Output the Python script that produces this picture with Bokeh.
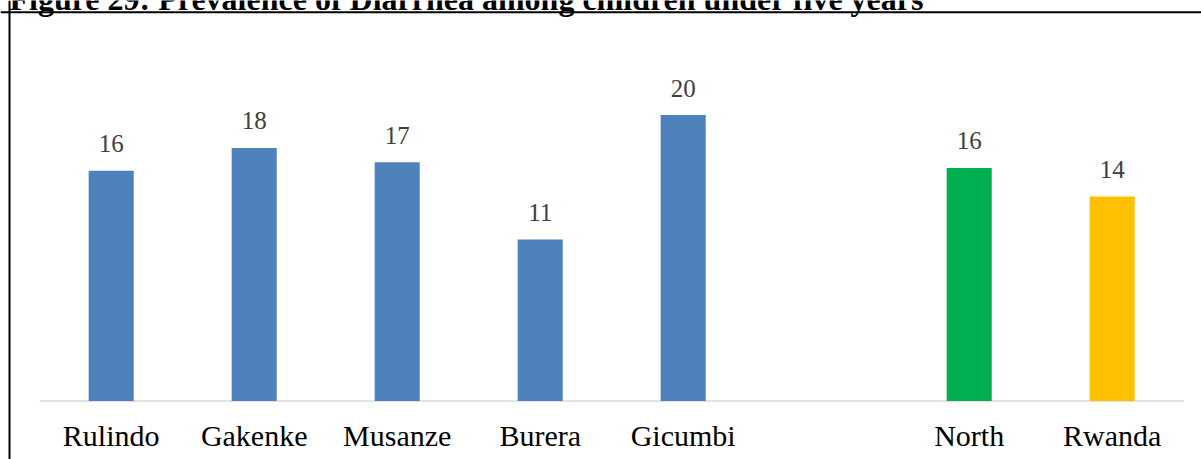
from bokeh.plotting import figure
from bokeh.models import Range1d, ColumnDataSource, Span
from bokeh.core.properties import value
from bokeh.embed import file_html
from bokeh.resources import INLINE

# ---- data ----
title = "Figure 29: Prevalence of Diarrhea among children under five years"
categories = ["Rulindo", "Gakenke", "Musanze", "Burera", "Gicumbi", "", "North", "Rwanda"]
prevalence = [16.1, 17.7, 16.7, 11.3, 20.0, None, 16.3, 14.3]

# ---- styles ----
BLUE, GREEN, GOLD = "#4F81BD", "#00B050", "#FFC000"
bar_colors = {"North": GREEN, "Rwanda": GOLD}
FONT = "Liberation Serif"
TXT_SHIFT = 10  # svg text renders this many px below the requested alphabetic baseline

# ---- layout (pixels) ----
W, H = 1201, 459
cat_px = 143.0           # width of one category slot
first_center_px = 110.7  # canvas x of the first category centre
base_px = 400.5          # canvas y of the value axis zero
px_per_unit = 14.3       # vertical scale

x_start = -first_center_px / cat_px
x_end = (W - first_center_px) / cat_px
y_end = base_px / px_per_unit
y_start = -(H - base_px) / px_per_unit

p = figure(width=W, height=H, x_range=Range1d(x_start, x_end), y_range=Range1d(y_start, y_end),
           x_axis_type=None, y_axis_type=None, toolbar_location=None, output_backend="svg",
           min_border=0, outline_line_color=None, background_fill_color="white",
           border_fill_color="white")

xs, tops, cols, labels = [], [], [], []
for i, (c, v) in enumerate(zip(categories, prevalence)):
    if v is None:
        continue
    xs.append(i)
    tops.append(v)
    cols.append(bar_colors.get(c, BLUE))
    labels.append(f"{v:.0f}")

src = ColumnDataSource(dict(x=xs, top=tops, color=cols, label=labels))

# category axis line
n = len(categories)
p.segment(x0=[-0.5], x1=[n - 0.5], y0=[0], y1=[0], line_color="#D9D9D9", line_width=1.5)

# bars
p.vbar(x="x", top="top", bottom=0, width=0.315, fill_color="color", line_color=None, source=src)

# value labels
p.text(x="x", y="top", text="label", source=src, text_align="center", text_baseline="alphabetic",
       y_offset=-17 - TXT_SHIFT, text_font=value(FONT), text_font_size="25px", text_color="#404040")

# category labels
cat_src = ColumnDataSource(dict(x=list(range(n)), y=[0] * n, name=categories))
p.text(x="x", y="y", text="name", source=cat_src, text_align="center", text_baseline="alphabetic",
       y_offset=44.5 - TXT_SHIFT, text_font=value(FONT), text_font_size="30px", text_color="black")

# figure frame lines (top and left border of the figure box)
p.add_layout(Span(location=y_end - 11.75 / px_per_unit, dimension="width", line_color="black", line_width=2))
p.add_layout(Span(location=x_start + 9.0 / cat_px, dimension="height", line_color="black", line_width=2))

# clipped figure caption
p.text(x=[x_start + 9.0 / cat_px], y=[y_end], text=[title], text_align="left", text_baseline="alphabetic",
       y_offset=8 - TXT_SHIFT, text_font=value(FONT), text_font_size="32px", text_font_style="bold",
       text_color="black")

open("out.html", "w").write(file_html(p, INLINE))
